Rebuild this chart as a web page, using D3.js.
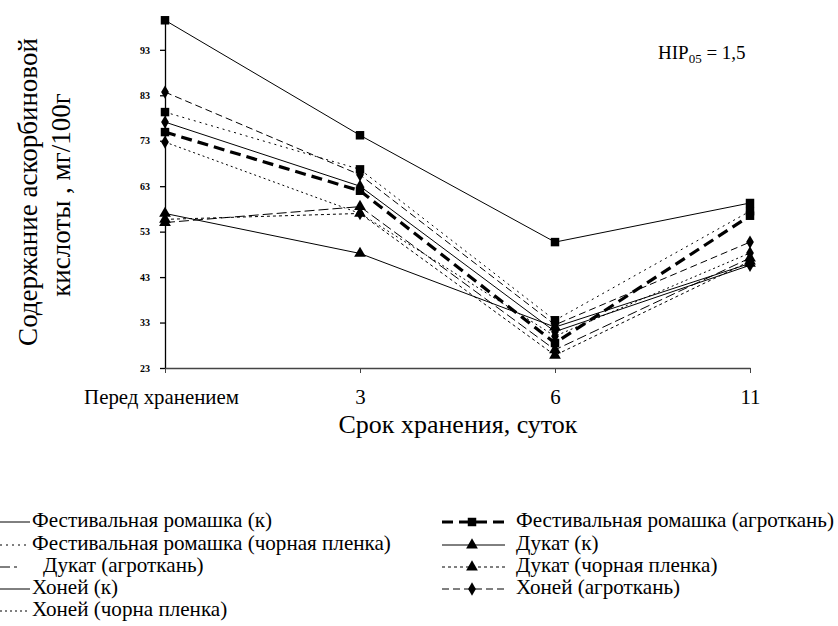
<!DOCTYPE html>
<html><head><meta charset="utf-8">
<script src="https://cdn.jsdelivr.net/npm/d3@7"></script>
<style>html,body{margin:0;padding:0;background:#fff;} svg{display:block;}</style>
</head><body>
<svg id="chart" width="838" height="626"></svg>
<script>
// ---- data ----
const categories = ["Перед хранением", "3", "6", "11"];
const yTicks = [23, 33, 43, 53, 63, 73, 83, 93];
const seriesNames = [
  "Фестивальная ромашка (к)",
  "Фестивальная ромашка (агроткань)",
  "Фестивальная ромашка (чорная пленка)",
  "Дукат (к)",
  "Дукат (агроткань)",
  "Дукат (чорная пленка)",
  "Хоней (к)",
  "Хоней (агроткань)",
  "Хоней (чорна пленка)"
];
const festK      = [99.5, 74.2, 50.7, 59.3];
const festAgro   = [74.9, 62.0, 28.5, 56.5];
const festBlack  = [79.3, 66.7, 33.5, 57.5];
const dukatK     = [57.0, 48.2, 32.0, 46.0];
const dukatAgro  = [55.0, 58.5, 27.0, 47.2];
const dukatBlack = [55.7, 57.0, 25.8, 46.5];
const honeyK     = [77.1, 63.0, 31.0, 45.6];
const honeyAgro  = [83.7, 65.5, 32.5, 50.7];
const honeyBlack = [72.7, 57.0, 30.0, 48.3];
const values = [festK, festAgro, festBlack, dukatK, dukatAgro, dukatBlack, honeyK, honeyAgro, honeyBlack];

// ---- styles ----
const styles = [
  {w:1,   dash:null,   sym:d3.symbolSquare},
  {w:3.2, dash:"11,6", sym:d3.symbolSquare},
  {w:1,   dash:"2,4",  sym:d3.symbolSquare},
  {w:1,   dash:null,   sym:d3.symbolTriangle},
  {w:1,   dash:"10,4", sym:d3.symbolTriangle},
  {w:1,   dash:"3,3",  sym:d3.symbolTriangle},
  {w:1,   dash:null,   sym:d3.symbolDiamond},
  {w:1,   dash:"7,4",  sym:d3.symbolDiamond},
  {w:1,   dash:"2,3",  sym:d3.symbolDiamond}
];
function symArea(sym){ return sym===d3.symbolSquare ? 72 : sym===d3.symbolTriangle ? 60 : 52; }

const serif = "Liberation Serif, DejaVu Serif, Times New Roman, serif";
const svg = d3.select("#chart");

const x = d3.scalePoint().domain(categories).range([165, 750]);
const y = d3.scaleLinear().domain([23, 100]).range([368, 18]);

function fit(sel, target){
  const fs = parseFloat(sel.attr("font-size"));
  const w = sel.node().getComputedTextLength();
  const nfs = fs * target / w;
  sel.attr("font-size", nfs.toFixed(2));
  return nfs;
}

// axes
const yAxis = svg.append("g").attr("transform","translate(165,0)")
  .call(d3.axisLeft(y).tickValues(yTicks).tickSize(5).tickSizeOuter(0).tickPadding(10));
yAxis.selectAll("text").attr("font-family", serif).attr("font-size", 10).attr("font-weight","bold").attr("fill","#000");
yAxis.selectAll("line,path").attr("stroke","#000").attr("stroke-width",1.3);

const xAxis = svg.append("g").attr("transform","translate(0,368)")
  .call(d3.axisBottom(x).tickSize(5).tickSizeOuter(0).tickPadding(16));
xAxis.select(".domain").attr("stroke","#444").attr("stroke-width",1.6);
xAxis.selectAll("line").attr("stroke","#444");
const xTickText = xAxis.selectAll("text").attr("font-family", serif).attr("font-size", 16).attr("fill","#000");
let xfs = 16;
xTickText.filter(d => d === categories[0]).each(function(){ xfs = fit(d3.select(this), 155); }).attr("x", -4);
xTickText.attr("font-size", xfs.toFixed(2));

// series lines
const line = d3.line().x((d,i)=>x(categories[i])).y(d=>y(d));
const gS = svg.append("g");
values.forEach((vals, k) => {
  const st = styles[k];
  gS.append("path").attr("d", line(vals)).attr("fill","none").attr("stroke","#000")
    .attr("stroke-width", st.w).attr("stroke-dasharray", st.dash);
});
values.forEach((vals, k) => {
  const st = styles[k];
  gS.selectAll(null).data(vals).join("path")
    .attr("transform",(d,i)=>`translate(${x(categories[i])},${y(d)})`)
    .attr("d", d3.symbol().type(st.sym).size(symArea(st.sym))).attr("fill","#000");
});

// y title
const yt1 = svg.append("text").attr("transform","translate(37,192) rotate(-90)").attr("text-anchor","middle")
  .attr("font-family", serif).attr("font-size", 22).text("Содержание аскорбиновой");
const yfs = fit(yt1, 308);
svg.append("text").attr("transform","translate(70,195) rotate(-90)").attr("text-anchor","middle")
  .attr("font-family", serif).attr("font-size", yfs.toFixed(2)).text("кислоты , мг/100г");

// x title
const xt = svg.append("text").attr("x", 458).attr("y", 433).attr("text-anchor","middle")
  .attr("font-family", serif).attr("font-size", 20).text("Срок хранения, суток");
fit(xt, 239);

// HIP annotation
const hip = svg.append("text").attr("x", 658).attr("y", 59).attr("font-family", serif).attr("font-size", 19).attr("fill","#000");
hip.append("tspan").text("НІР");
hip.append("tspan").attr("font-size", 13).attr("dy", 4).text("05");
hip.append("tspan").attr("dy", -4).text(" = 1,5");

// legend
const rowsY = [522, 545, 567, 589, 611];
const lg = svg.append("g");
const probe = lg.append("text").attr("font-family", serif).attr("font-size", 17).text(seriesNames[0]);
const lfs = fit(probe, 240);
probe.remove();
seriesNames.forEach((name, k) => {
  const st = styles[k];
  const col = k % 2, row = Math.floor(k / 2);
  const cy = rowsY[row];
  if (col === 0) {
    const x2 = k === 4 ? 17 : 30;
    lg.append("line").attr("x1", 0).attr("x2", x2).attr("y1", cy).attr("y2", cy)
      .attr("stroke","#000").attr("stroke-width", st.w).attr("stroke-dasharray", st.dash);
    lg.append("text").attr("x", k === 4 ? 43 : 32).attr("y", cy + 5)
      .attr("font-family", serif).attr("font-size", lfs.toFixed(2)).text(name);
  } else {
    lg.append("line").attr("x1", 442).attr("x2", 505).attr("y1", cy).attr("y2", cy)
      .attr("stroke","#000").attr("stroke-width", st.w).attr("stroke-dasharray", st.dash);
    lg.append("path").attr("transform", `translate(472,${cy})`)
      .attr("d", d3.symbol().type(st.sym).size(symArea(st.sym))).attr("fill","#000");
    lg.append("text").attr("x", 516).attr("y", cy + 5)
      .attr("font-family", serif).attr("font-size", lfs.toFixed(2)).text(name);
  }
});
</script>
</body></html>
